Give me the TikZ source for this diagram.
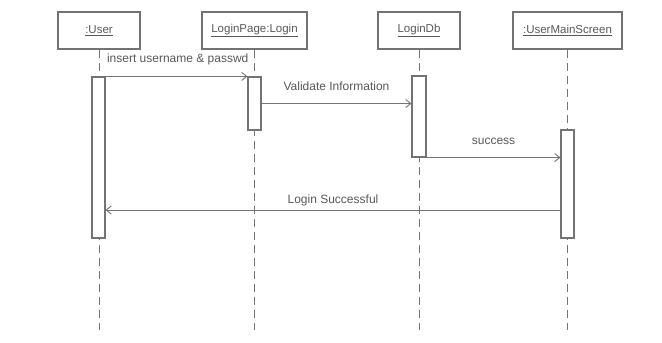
\documentclass[tikz,border=0pt]{standalone}
\usepackage{fontspec}
\setmainfont{Liberation Sans}
\usetikzlibrary{arrows.meta}
\definecolor{lnc}{gray}{0.45}
\definecolor{txc}{gray}{0.35}
\begin{document}
\begin{tikzpicture}[x=1pt,y=-1pt,
  objbox/.style={draw=lnc,line width=1.1pt,fill=white,minimum height=37pt,inner sep=0pt,
    text=txc,font=\fontsize{11.5}{14}\selectfont},
  actbar/.style={draw=lnc,line width=1.1pt,fill=white,minimum width=13pt,inner sep=0pt},
  lifeline/.style={draw=lnc,line width=1pt,dash pattern=on 8pt off 5pt},
  msg/.style={draw=lnc,line width=0.9pt,-{Straight Barb[length=5pt,width=8pt]}},
  msglabel/.style={text=txc,font=\fontsize{12}{14}\selectfont,inner sep=1pt}
]
\useasboundingbox (0,0) rectangle (662,343);
\fill[white] (0,0) rectangle (662,343);

% objects
\node[objbox,minimum width=82pt]  (u)  at (99,30.5)    {\underline{:User}};
\node[objbox,minimum width=105pt] (lp) at (254.5,30.5) {\underline{LoginPage:Login}};
\node[objbox,minimum width=82pt]  (db) at (419,30.5)   {\underline{LoginDb}};
\node[objbox,minimum width=109pt] (ms) at (567.5,30.5) {\underline{:UserMainScreen}};

% lifeline ends
\coordinate (ue)  at (99,330);
\coordinate (lpe) at (254.5,330);
\coordinate (dbe) at (419,330);
\coordinate (mse) at (567.5,330);
\draw[lifeline] (u.south) -- (ue);
\draw[lifeline] (lp.south) -- (lpe);
\draw[lifeline] (db.south) -- (dbe);
\draw[lifeline] (ms.south) -- (mse);

% activation bars
\node[actbar,minimum height=161pt] (ub) at (98.5,157.5) {};
\node[actbar,minimum height=53pt]  (lb) at (254.5,103.5) {};
\node[actbar,minimum height=81pt,minimum width=14pt] (dbb) at (419,116.5) {};
\node[actbar,minimum height=108pt] (mb) at (567.5,184) {};

% messages
\draw[msg] (ub.north east) -- (lb.north west)
  node[msglabel,pos=0,anchor=west,yshift=17pt] {insert username \& passwd};
\draw[msg] (lb.east) -- (lb.east -| dbb.west)
  node[msglabel,midway,yshift=17pt] {Validate Information};
\draw[msg] (dbb.south east) -- (dbb.south east -| mb.west)
  node[msglabel,midway,yshift=16pt] {success};
\coordinate (m4) at (0,210);
\draw[msg] (m4 -| mb.west) -- (m4 -| ub.east)
  node[msglabel,midway,yshift=10pt] {Login Successful};
\end{tikzpicture}
\end{document}
